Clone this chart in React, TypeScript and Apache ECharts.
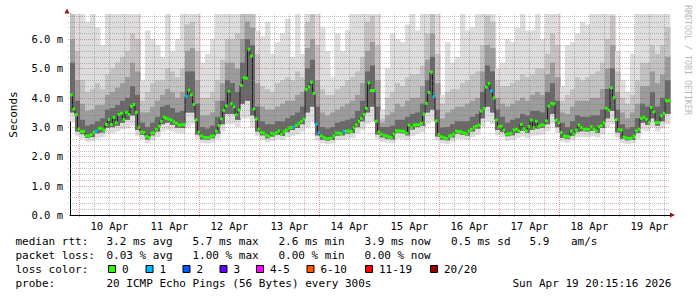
import React, { useEffect, useRef } from "react";
import * as echarts from "echarts";

// hours relative to Apr 10 00:00
const START_HOUR = -3.75; // Apr 9 20:15:16
const END_HOUR = 236.25; // Apr 19 20:15:16
const Y_MAX = 6.86; // ms

const dayLabels = ["10 Apr", "11 Apr", "12 Apr", "13 Apr", "14 Apr", "15 Apr", "16 Apr", "17 Apr", "18 Apr", "19 Apr"];
const dayLabelHours = [12, 36, 60, 84, 108, 132, 156, 180, 204, 228];

// median rtt (ms), one value per hour, 240 hours
const medianRtt = [
  4.10, 3.62, 3.42, 2.94, 2.85, 2.85, 2.70, 2.70, 2.74, 2.82,
  2.87, 2.96, 2.96, 2.90, 3.09, 3.26, 3.09, 3.33, 3.15, 3.43,
  3.47, 3.26, 3.50, 3.43, 3.71, 3.77, 3.50, 2.99, 2.83, 2.81,
  2.68, 2.65, 2.79, 2.81, 2.93, 3.03, 3.20, 3.34, 3.30, 3.27,
  3.24, 3.18, 3.13, 3.07, 3.07, 3.09, 4.05, 4.26, 4.10, 3.77,
  3.25, 2.83, 2.70, 2.65, 2.64, 2.64, 2.69, 2.70, 2.86, 3.05,
  3.28, 3.57, 3.72, 4.22, 3.80, 3.69, 3.42, 3.58, 4.42, 4.68,
  4.67, 5.66, 5.43, 3.62, 3.28, 2.93, 2.82, 2.79, 2.72, 2.69,
  2.79, 2.76, 2.81, 2.87, 2.75, 2.84, 2.90, 2.97, 2.99, 3.00,
  3.06, 3.13, 3.20, 3.28, 4.28, 4.37, 4.53, 4.15, 3.10, 2.81,
  2.70, 2.64, 2.60, 2.61, 2.62, 2.70, 2.80, 2.79, 2.78, 2.86,
  2.86, 2.86, 2.86, 2.98, 3.08, 3.20, 3.30, 3.43, 3.64, 4.51,
  4.25, 4.25, 3.20, 2.83, 2.76, 2.72, 2.70, 2.67, 2.64, 2.76,
  2.87, 2.87, 2.86, 2.86, 2.79, 3.07, 2.99, 3.07, 3.08, 3.08,
  3.13, 3.44, 3.81, 4.18, 4.88, 4.05, 3.21, 2.75, 2.67, 2.64,
  2.61, 2.69, 2.72, 2.76, 2.86, 2.85, 2.83, 2.80, 2.77, 2.86,
  2.92, 2.99, 3.03, 3.07, 3.55, 3.64, 4.37, 4.49, 4.24, 3.99,
  3.24, 3.01, 3.03, 2.90, 2.76, 2.77, 2.79, 2.90, 2.93, 2.87,
  3.09, 2.95, 2.87, 3.02, 3.24, 2.98, 3.20, 3.03, 3.07, 3.07,
  3.21, 3.72, 3.81, 3.79, 3.24, 3.15, 2.81, 2.70, 2.68, 2.67,
  2.86, 2.76, 2.90, 3.07, 2.99, 2.93, 2.93, 2.93, 3.01, 2.93,
  2.87, 3.01, 3.05, 3.15, 3.64, 3.58, 4.34, 4.00, 3.26, 2.92,
  2.90, 2.66, 2.63, 2.61, 2.62, 2.69, 2.87, 2.93, 3.30, 3.34,
  3.27, 3.16, 3.67, 3.52, 3.16, 3.16, 3.39, 3.47, 3.90, 3.90,
];

// hours with packet loss (index into medianRtt) and the lost pings
const lossHours = [10, 46, 89, 98, 99, 109, 145, 168];
const lossPings = [1, 1, 1, 1, 1, 1, 1, 1];

// smoke (ms), one value per 2 hours, 120 values: spread of the 20 pings
const smokeMin = [
  3.2, 2.7, 2.6, 2.5, 2.52, 2.62, 2.66, 2.78, 2.8, 2.85,
  2.92, 2.95, 3.05, 2.7, 2.58, 2.45, 2.55, 2.65, 2.85, 2.9,
  2.85, 2.8, 2.78, 3.0, 3.1, 2.6, 2.45, 2.44, 2.48, 2.6,
  2.85, 3.1, 3.1, 3.0, 3.3, 3.3, 3.0, 2.7, 2.55, 2.48,
  2.53, 2.58, 2.55, 2.65, 2.7, 2.75, 2.85, 3.0, 3.2, 2.55,
  2.45, 2.42, 2.44, 2.55, 2.56, 2.6, 2.62, 2.78, 2.9, 3.1,
  3.2, 2.6, 2.5, 2.47, 2.45, 2.6, 2.6, 2.55, 2.7, 2.78,
  2.82, 3.1, 3.2, 2.55, 2.44, 2.42, 2.5, 2.6, 2.58, 2.56,
  2.66, 2.74, 3.0, 3.2, 3.1, 2.72, 2.65, 2.53, 2.56, 2.62,
  2.68, 2.62, 2.7, 2.72, 2.75, 2.85, 3.1, 2.8, 2.5, 2.47,
  2.55, 2.65, 2.66, 2.66, 2.68, 2.64, 2.75, 3.0, 3.1, 2.65,
  2.45, 2.42, 2.44, 2.6, 2.88, 2.85, 3.0, 2.85, 2.95, 3.1,
];
const smokeLow = [
  3.5, 2.85, 2.76, 2.63, 2.66, 2.79, 2.82, 2.98, 3.0, 3.05,
  3.15, 3.25, 3.4, 2.9, 2.74, 2.58, 2.72, 2.85, 3.1, 3.15,
  3.08, 2.98, 2.97, 3.5, 3.5, 2.75, 2.58, 2.57, 2.62, 2.78,
  3.1, 3.45, 3.45, 3.25, 3.8, 3.9, 3.4, 2.85, 2.72, 2.62,
  2.68, 2.74, 2.7, 2.83, 2.9, 2.97, 3.1, 3.5, 3.7, 2.72,
  2.57, 2.54, 2.56, 2.71, 2.72, 2.78, 2.8, 3.0, 3.2, 3.5,
  3.7, 2.75, 2.65, 2.6, 2.58, 2.8, 2.79, 2.72, 2.92, 3.0,
  3.05, 3.5, 3.6, 2.68, 2.57, 2.55, 2.65, 2.78, 2.74, 2.71,
  2.85, 2.95, 3.3, 3.7, 3.5, 2.9, 2.83, 2.69, 2.72, 2.8,
  2.88, 2.8, 2.9, 2.95, 2.98, 3.1, 3.45, 3.0, 2.63, 2.6,
  2.7, 2.83, 2.86, 2.85, 2.87, 2.8, 2.97, 3.3, 3.55, 2.82,
  2.6, 2.55, 2.56, 2.8, 3.15, 3.08, 3.3, 3.05, 3.2, 3.45,
];
const smokeHigh = [
  5.2, 3.9, 3.25, 3.05, 3.1, 3.2, 3.3, 3.6, 3.65, 3.75,
  3.9, 4.0, 4.4, 4.1, 3.15, 3.0, 3.15, 3.35, 3.7, 3.75,
  3.65, 3.5, 3.55, 4.9, 4.9, 3.8, 3.0, 2.95, 3.05, 3.35,
  3.9, 4.6, 4.5, 4.2, 5.2, 6.0, 5.8, 3.7, 3.2, 3.1,
  3.1, 3.2, 3.2, 3.3, 3.4, 3.5, 3.7, 5.0, 5.3, 3.7,
  3.0, 2.95, 3.0, 3.15, 3.2, 3.25, 3.3, 3.55, 3.9, 4.9,
  5.1, 3.7, 3.0, 3.0, 3.05, 3.25, 3.25, 3.35, 3.45, 3.5,
  3.8, 4.6, 5.4, 3.6, 2.98, 3.0, 3.1, 3.2, 3.2, 3.2,
  3.35, 3.45, 4.2, 5.1, 4.9, 3.6, 3.35, 3.15, 3.25, 3.3,
  3.45, 3.4, 3.55, 3.55, 3.5, 4.2, 4.5, 3.9, 3.15, 3.0,
  3.2, 3.4, 3.35, 3.35, 3.4, 3.4, 3.6, 4.3, 5.0, 3.6,
  3.1, 2.95, 3.0, 3.3, 3.8, 3.7, 4.2, 3.7, 4.0, 4.6,
];
const smokeMid = [
  6.0, 4.6, 3.8, 3.55, 3.6, 3.75, 3.75, 4.1, 4.2, 4.35,
  4.5, 4.7, 5.2, 4.9, 3.5, 3.5, 3.7, 3.9, 4.1, 4.3,
  4.2, 4.0, 4.2, 5.6, 5.7, 4.6, 3.4, 3.4, 3.5, 3.9,
  4.5, 5.2, 5.2, 5.0, 6.0, 6.6, 6.4, 4.5, 3.7, 3.6,
  3.6, 3.7, 3.8, 3.9, 3.9, 4.1, 4.2, 5.7, 6.0, 4.6,
  3.5, 3.4, 3.5, 3.6, 3.7, 3.8, 3.9, 4.1, 4.5, 5.6,
  5.9, 4.6, 3.15, 3.4, 3.5, 3.8, 3.7, 3.9, 4.0, 4.0,
  4.4, 5.3, 6.2, 4.5, 3.3, 3.5, 3.6, 3.7, 3.7, 3.8,
  3.9, 4.0, 4.9, 5.8, 5.7, 4.0, 3.8, 3.7, 3.8, 3.9,
  4.0, 3.9, 4.1, 4.2, 4.1, 4.8, 5.2, 4.7, 3.5, 3.45,
  3.7, 3.9, 3.9, 3.9, 4.0, 4.0, 4.3, 5.0, 5.8, 4.2,
  3.5, 3.3, 3.5, 3.8, 4.4, 4.4, 4.9, 4.5, 4.8, 5.4,
];
const smokeUpper = [
  6.9, 5.6, 4.6, 4.2, 4.3, 4.5, 4.3, 4.8, 5.0, 5.2,
  5.4, 5.6, 6.2, 6.0, 3.9, 4.2, 4.5, 4.6, 4.6, 5.0,
  4.9, 4.7, 5.0, 6.5, 6.6, 5.6, 4.0, 4.0, 4.2, 4.6,
  5.3, 6.0, 6.0, 6.2, 6.9, 7.0, 7.0, 5.5, 4.4, 4.3,
  4.2, 4.5, 4.6, 4.7, 4.6, 4.9, 4.7, 6.6, 6.9, 5.8,
  4.3, 4.1, 4.1, 4.3, 4.4, 4.6, 4.7, 4.9, 5.4, 6.6,
  6.8, 5.8, 3.3, 4.0, 4.2, 4.5, 4.4, 4.7, 4.8, 4.8,
  5.1, 6.2, 7.0, 5.5, 3.8, 4.2, 4.3, 4.3, 4.5, 4.6,
  4.8, 4.9, 5.8, 6.8, 6.6, 4.6, 4.4, 4.4, 4.5, 4.6,
  4.8, 4.7, 4.8, 5.0, 5.0, 5.5, 6.2, 5.8, 3.9, 4.1,
  4.3, 4.7, 4.6, 4.7, 4.8, 4.9, 5.2, 6.0, 6.8, 4.9,
  4.0, 3.8, 4.1, 4.6, 5.2, 5.2, 5.8, 5.5, 5.8, 6.4,
];
const smokeMax = [
  7, 7, 7, 6.6, 7, 6.4, 5.8, 7, 7, 7,
  7, 7, 7, 7, 4.6, 6.3, 6.0, 5.8, 5.4, 7,
  5.6, 6.0, 7, 7, 7, 7, 5.2, 5.5, 6.0, 7,
  7, 7, 7, 7, 7, 7, 7, 6.3, 6.1, 6.6,
  5.5, 5.9, 6.2, 6.7, 5.4, 7, 5.5, 7, 7, 7,
  6.4, 5.6, 4.7, 6.2, 5.6, 6.3, 7, 7, 7, 7,
  7, 7, 3.6, 5.0, 6.2, 6.0, 5.9, 6.5, 7, 6.3,
  7, 7, 7, 7, 4.1, 5.9, 5.2, 5.4, 7, 6.3,
  6.4, 7, 7, 7, 7, 5.0, 5.2, 6.0, 5.9, 6.4,
  7, 6.3, 6.3, 7, 6.0, 7, 7, 7, 4.4, 5.8,
  5.9, 6.2, 6.6, 6.5, 7, 7, 7, 7, 7, 5.6,
  4.6, 4.2, 5.5, 7, 7, 7, 7, 7, 7, 7,
];

const lossLegendLabels = ["0", "1", "2", "3", "4-5", "6-10", "11-19", "20/20"];
const lossLegendColors = ["#26ff00", "#00b8ff", "#0059ff", "#5e00ff", "#ff00ff", "#ff5500", "#ff0000", "#a00000"];

const rttStats = ["3.2 ms avg", "5.7 ms max", "2.6 ms min", "3.9 ms now", "0.5 ms sd"];
const rttAmS = "5.9";
const lossStats = ["0.03 % avg", "1.00 % max", "0.00 % min", "0.00 % now"];
const probeText = "20 ICMP Echo Pings (56 Bytes) every 300s";
const stampText = "Sun Apr 19 20:15:16 2026";

const FONT = "DejaVu Sans Mono";

function lossColorIndex(p: number): number {
  if (p <= 0) return 0;
  if (p === 1) return 1;
  if (p === 2) return 2;
  if (p === 3) return 3;
  if (p <= 5) return 4;
  if (p <= 10) return 5;
  if (p <= 19) return 6;
  return 7;
}

function buildOption(): any {
  const lossMap: Record<number, number> = {};
  lossHours.forEach((h, i) => (lossMap[h] = lossPings[i]));

  const smokeData = smokeMin.map((v, k) => [
    START_HOUR + 2 * k, v, smokeLow[k], smokeHigh[k], smokeMid[k], smokeUpper[k], smokeMax[k],
  ]);
  const medLineData = medianRtt.map((v, i) => [START_HOUR + i, v, i > 0 ? medianRtt[i - 1] : v]);
  const medBoxData = medianRtt.map((v, i) => [START_HOUR + i, v, lossColorIndex(lossMap[i] || 0)]);

  // [lower edge, upper edge, colour] as indices into [min, low, high, mid, upper, max]
  const smokeBands: [number, number, string][] = [
    [0, 5, "#dddddd"],
    [1, 4, "#c2c2c2"],
    [1, 3, "#9c9c9c"],
    [1, 2, "#696969"],
  ];

  const txt = (x: number, y: number, text: string, extra: any = {}) => ({
    type: "text",
    x,
    y,
    silent: true,
    style: { text, fontFamily: FONT, fontSize: 11, fill: "#000", align: "left", verticalAlign: "middle", ...extra },
  });

  const graphic: any[] = [];
  graphic.push(txt(15.5, 241, "median rtt:"));
  [106.5, 192.5, 278.5, 364.5, 451].forEach((x, i) => graphic.push(txt(x, 241, rttStats[i])));
  graphic.push(txt(529.5, 241, rttAmS));
  graphic.push(txt(571, 241, "am/s"));
  graphic.push(txt(15.5, 255, "packet loss:"));
  [106.5, 192.5, 278.5, 364.5].forEach((x, i) => graphic.push(txt(x, 255, lossStats[i])));
  graphic.push(txt(15.5, 269, "loss color:"));
  [108, 145.5, 182.5, 219.5, 256, 306.5, 365, 430].forEach((x, i) => {
    graphic.push({
      type: "rect",
      silent: true,
      shape: { x: x + 0.5, y: 265.5, width: 7, height: 7 },
      style: { fill: lossLegendColors[i], stroke: "#000", lineWidth: 1 },
    });
    graphic.push(txt(x + 14, 269, lossLegendLabels[i]));
  });
  graphic.push(txt(15.5, 283, "probe:"));
  graphic.push(txt(106.5, 283, probeText));
  graphic.push(txt(512.5, 283, stampText));
  // watermark
  graphic.push({
    type: "text",
    x: 688,
    y: 5,
    rotation: -Math.PI / 2,
    silent: true,
    style: { text: "RRDTOOL / TOBI OETIKER", fontFamily: FONT, fontSize: 8.3, fill: "#b8b8b8", align: "left", verticalAlign: "middle" },
  });
  // axis arrows
  graphic.push({ type: "polygon", silent: true, shape: { points: [[64.5, 13.5], [69.5, 13.5], [67, 8.5]] }, style: { fill: "#9a1414" } });
  graphic.push({ type: "polygon", silent: true, shape: { points: [[670, 212.5], [670, 217.5], [675, 215]] }, style: { fill: "#9a1414" } });

  return {
    animation: false,
    backgroundColor: "#ffffff",
    grid: { left: 67, right: 27, top: 14, bottom: 82, containLabel: false },
    xAxis: {
      type: "value",
      min: START_HOUR,
      max: END_HOUR,
      axisLine: { show: true, onZero: false, lineStyle: { color: "#000", width: 1 } },
      axisTick: { show: false },
      splitLine: { show: false },
      axisLabel: {
        customValues: dayLabelHours,
        formatter: (v: number) => {
          const i = dayLabelHours.indexOf(v);
          return i >= 0 ? dayLabels[i] : "";
        },
        margin: 5,
        fontFamily: FONT,
        fontSize: 10.5,
        color: "#000",
      },
    },
    yAxis: {
      type: "value",
      min: 0,
      max: Y_MAX,
      interval: 1,
      axisLine: { show: true, onZero: false, lineStyle: { color: "#000", width: 1 } },
      axisTick: { show: false },
      splitLine: { show: false },
      axisLabel: {
        formatter: (v: number) => (Math.abs(v - Math.round(v)) < 1e-6 ? v.toFixed(1) + " m" : ""),
        margin: 7,
        fontFamily: FONT,
        fontSize: 10.5,
        color: "#000",
      },
      name: "Seconds",
      nameLocation: "middle",
      nameGap: 51,
      nameRotate: 90,
      nameTextStyle: { fontFamily: FONT, fontSize: 11, color: "#000" },
    },
    series: [
      {
        type: "custom",
        name: "smoke",
        silent: true,
        data: smokeData,
        encode: { x: 0, y: [1, 2, 3, 4, 5, 6] },
        renderItem: (params: any, api: any) => {
          const t0 = api.value(0) as number;
          const x0 = api.coord([t0, 0])[0];
          const x1 = api.coord([t0 + 2, 0])[0];
          const vals = [1, 2, 3, 4, 5, 6].map((d) => api.value(d) as number);
          const py = (v: number) => api.coord([t0, Math.min(v, Y_MAX)])[1];
          return {
            type: "group",
            children: smokeBands.map(([lo, hi, c]) => {
              const yt = py(vals[hi]);
              const yb = py(vals[lo]);
              return { type: "rect", shape: { x: x0, y: yt, width: x1 - x0 + 0.5, height: yb - yt }, style: { fill: c } };
            }),
          };
        },
      },
      {
        type: "custom",
        name: "medianLine",
        silent: true,
        data: medLineData,
        encode: { x: 0, y: [1, 2] },
        renderItem: (params: any, api: any) => {
          const t0 = api.value(0) as number;
          const x0 = api.coord([t0, 0])[0];
          const x1 = api.coord([t0 + 1, 0])[0];
          const y = api.coord([t0, api.value(1)])[1];
          const yp = api.coord([t0, api.value(2)])[1];
          return {
            type: "group",
            children: [
              { type: "line", shape: { x1: x0, y1: yp, x2: x0, y2: y }, style: { stroke: "#202020", lineWidth: 1 } },
              { type: "line", shape: { x1: x0, y1: y, x2: x1, y2: y }, style: { stroke: "#202020", lineWidth: 1 } },
            ],
          };
        },
      },
      {
        type: "custom",
        name: "median",
        silent: true,
        data: medBoxData,
        encode: { x: 0, y: 1 },
        renderItem: (params: any, api: any) => {
          const t0 = api.value(0) as number;
          const x0 = api.coord([t0, 0])[0];
          const x1 = api.coord([t0 + 1, 0])[0];
          const y = api.coord([t0, api.value(1)])[1];
          return {
            type: "rect",
            shape: { x: x0, y: y - 1.5, width: x1 - x0 + 0.3, height: 3 },
            style: { fill: lossLegendColors[api.value(2) as number] },
          };
        },
      },
      {
        type: "custom",
        name: "grid",
        silent: true,
        data: [[START_HOUR, 0]],
        encode: { x: 0, y: 1 },
        renderItem: (params: any, api: any) => {
          const children: any[] = [];
          const [xl, yb] = api.coord([START_HOUR, 0]);
          const [xr, yt] = api.coord([END_HOUR, Y_MAX]);
          const minor = "rgba(120,120,120,0.45)";
          const major = "rgba(200,50,50,0.45)";
          for (let h = 0; h <= END_HOUR; h += 6) {
            const x = Math.round(api.coord([h, 0])[0]) + 0.5;
            children.push({
              type: "line",
              shape: { x1: x, y1: yt, x2: x, y2: yb + 2 },
              style: { stroke: h % 24 === 0 ? major : minor, lineWidth: 1, lineDash: [1, 1] },
            });
          }
          for (let j = 1; j * 0.2 <= Y_MAX; j++) {
            const y = Math.round(api.coord([START_HOUR, j * 0.2])[1]) + 0.5;
            children.push({
              type: "line",
              shape: { x1: xl - 2, y1: y, x2: xr, y2: y },
              style: { stroke: j % 5 === 0 ? major : minor, lineWidth: 1, lineDash: [1, 1] },
            });
          }
          return { type: "group", children };
        },
      },
    ],
    graphic,
  };
}

export default function App() {
  const ref = useRef<HTMLDivElement>(null);
  useEffect(() => {
    if (!ref.current) return;
    const chart = echarts.init(ref.current, undefined, { renderer: "svg" });
    chart.setOption(buildOption());
    return () => {
      chart.dispose();
    };
  }, []);
  return <div ref={ref} style={{ position: "fixed", left: 0, top: 0, width: 697, height: 297 }} />;
}
